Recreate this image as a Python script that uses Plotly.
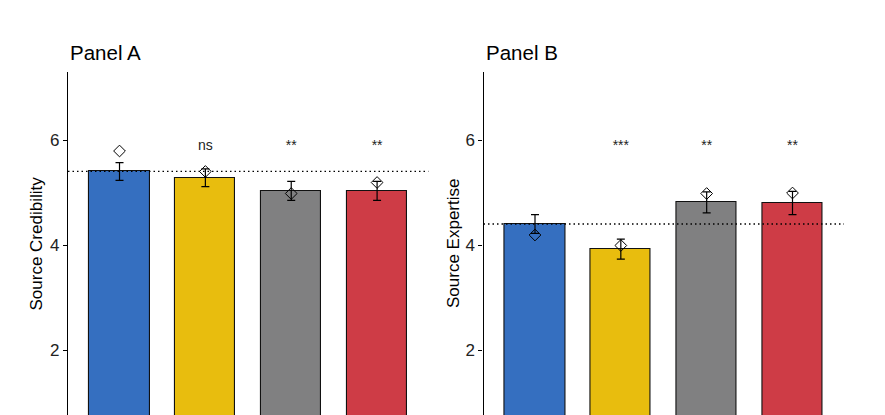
import plotly.graph_objects as go

# ---- data ----
groups = [1, 2, 3, 4]
colors = ["#356FC0", "#E8BD0E", "#808081", "#CE3C46"]

cred_mean = [5.41, 5.29, 5.04, 5.04]
cred_err = [0.17, 0.17, 0.18, 0.18]
cred_diamond = [5.80, 5.41, 4.99, 5.20]
cred_ref = 5.41
cred_sig = ["", "ns", "**", "**"]

exp_mean = [4.41, 3.93, 4.82, 4.81]
exp_err = [0.18, 0.19, 0.20, 0.22]
exp_diamond = [4.20, 4.00, 4.99, 5.00]
exp_ref = 4.41
exp_sig = ["", "***", "**", "**"]

sig_y = 5.88
yticks = [2, 4, 6]

W, H = 885, 415
FONT = "Liberation Sans, Arial, sans-serif"

fig = go.Figure()

panels = [
    ("x", "y", cred_mean, cred_err, cred_diamond, cred_ref, cred_sig),
    ("x2", "y2", exp_mean, exp_err, exp_diamond, exp_ref, exp_sig),
]
for xa, ya, mean, err, dia, ref, sig in panels:
    fig.add_trace(go.Bar(
        x=groups, y=mean, width=0.7, xaxis=xa, yaxis=ya,
        marker=dict(color=colors, line=dict(color="#111", width=1.1)),
        showlegend=False, hoverinfo="skip",
    ))
    fig.add_trace(go.Scatter(
        x=groups, y=mean, mode="markers", xaxis=xa, yaxis=ya,
        marker=dict(size=1, color="rgba(0,0,0,0)"),
        error_y=dict(type="data", array=err, visible=True, color="black",
                     thickness=1.2, width=4),
        showlegend=False, hoverinfo="skip",
    ))
    fig.add_trace(go.Scatter(
        x=groups, y=dia, mode="markers", xaxis=xa, yaxis=ya,
        marker=dict(symbol="diamond-open", size=9, color="black",
                    line=dict(width=1, color="black")),
        showlegend=False, hoverinfo="skip",
    ))
    fig.add_trace(go.Scatter(
        x=[0.4, 4.6], y=[ref, ref], mode="lines", xaxis=xa, yaxis=ya,
        line=dict(color="black", width=1.3, dash="1.5px,3px"),
        showlegend=False, hoverinfo="skip",
    ))
    fig.add_trace(go.Scatter(
        x=groups, y=[sig_y] * 4, text=sig, mode="text", xaxis=xa, yaxis=ya,
        textfont=dict(family=FONT, size=14, color="#222"),
        textposition="middle center",
        showlegend=False, hoverinfo="skip",
    ))

y_top = 6 + (140.5 - 72) / 52.5
y_bot = 6 - (H - 140.5) / 52.5
ydom = [0, 1 - 72 / H]

xax = dict(range=[0.4, 4.6], showticklabels=False, showgrid=False,
           zeroline=False, showline=False, ticks="", fixedrange=True)
yax = dict(range=[y_bot, y_top], domain=ydom, tickvals=yticks,
           ticks="outside", ticklen=4, tickwidth=1, tickcolor="black",
           showline=True, linecolor="black", linewidth=1.2,
           showgrid=False, zeroline=False,
           tickfont=dict(family=FONT, size=17, color="#222"))

fig.update_layout(
    width=W, height=H,
    margin=dict(l=0, r=0, t=0, b=0),
    paper_bgcolor="white", plot_bgcolor="white",
    xaxis=dict(domain=[68 / W, 428.6 / W], **xax),
    xaxis2=dict(domain=[483.5 / W, 844 / W], **xax),
    yaxis=dict(anchor="x", **yax),
    yaxis2=dict(anchor="x2", **yax),
    bargap=0,
)

annots = [
    dict(text="Panel A", x=68 / W, y=1 - 52.7 / H, xanchor="left", yanchor="middle",
         font=dict(family=FONT, size=20.5, color="black")),
    dict(text="Panel B", x=484 / W, y=1 - 52.7 / H, xanchor="left", yanchor="middle",
         font=dict(family=FONT, size=20.5, color="black")),
    dict(text="Source Credibility", x=36 / W, y=1 - 243.5 / H, textangle=-90,
         xanchor="center", yanchor="middle",
         font=dict(family=FONT, size=17, color="black")),
    dict(text="Source Expertise", x=453 / W, y=1 - 244 / H, textangle=-90,
         xanchor="center", yanchor="middle",
         font=dict(family=FONT, size=17, color="black")),
]
for a in annots:
    fig.add_annotation(xref="paper", yref="paper", showarrow=False, **a)

fig.write_html("out.html")
